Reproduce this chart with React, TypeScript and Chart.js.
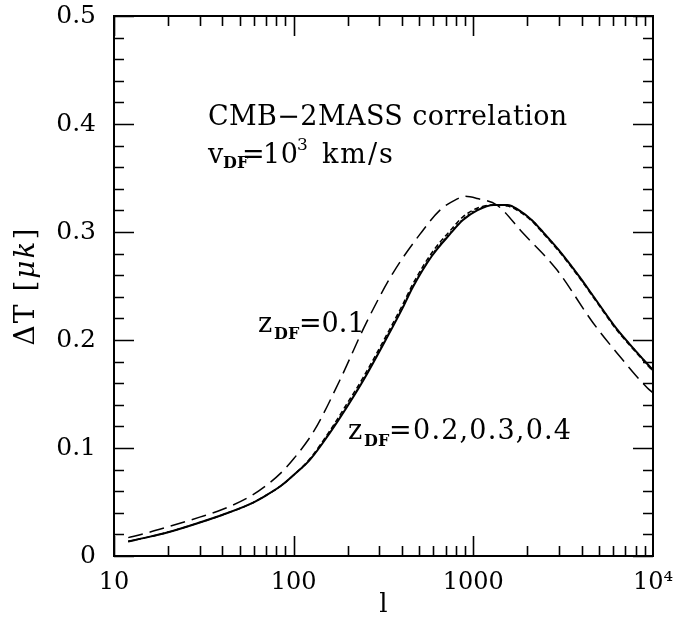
import React, { useEffect, useRef } from 'react';
import { Chart, registerables } from 'chart.js';

Chart.register(...registerables);

const FONT = "'DejaVu Serif', serif";

// Axis ticks
const X_TICKS = [10, 100, 1000, 10000];
const X_TICK_LABELS = ['10', '100', '1000', '10\u2074'];
const Y_TICKS = [0, 0.1, 0.2, 0.3, 0.4, 0.5];
const Y_TICK_LABELS = ['0', '0.1', '0.2', '0.3', '0.4', '0.5'];

// z_DF = 0.1 (long dashed)
const L_Z01 = [12, 15, 20, 30, 40, 57, 70, 85, 100, 130, 181, 252, 357, 505, 650, 800, 897, 1050, 1352, 1888, 2917, 4635, 6300, 9250, 10000];
const DT_Z01 = [0.017, 0.021, 0.027, 0.036, 0.043, 0.055, 0.065, 0.077, 0.090, 0.116, 0.163, 0.215, 0.262, 0.298, 0.320, 0.330, 0.333, 0.331, 0.325, 0.299, 0.265, 0.216, 0.188, 0.156, 0.151];

// z_DF = 0.2, 0.3, 0.4 (nearly coincident)
const L_ZHI = [12, 15, 20, 30, 40, 57, 70, 85, 100, 123, 159, 198, 243, 330, 405, 461, 589, 741, 875, 1050, 1300, 1550, 1800, 2150, 2350, 3000, 3920, 4635, 6300, 8000, 10000];
const DT_Z02 = [0.0135, 0.017, 0.022, 0.031, 0.038, 0.048, 0.056, 0.065, 0.075, 0.089, 0.114, 0.138, 0.162, 0.202, 0.230, 0.249, 0.278, 0.298, 0.311, 0.320, 0.325, 0.325, 0.320, 0.310, 0.303, 0.283, 0.258, 0.241, 0.210, 0.190, 0.172];
const DT_Z03 = [0.0135, 0.017, 0.022, 0.031, 0.038, 0.048, 0.056, 0.065, 0.075, 0.090, 0.116, 0.141, 0.165, 0.205, 0.233, 0.252, 0.281, 0.301, 0.314, 0.322, 0.325, 0.324, 0.319, 0.309, 0.302, 0.282, 0.257, 0.240, 0.209, 0.189, 0.171];
const DT_Z04 = [0.0135, 0.017, 0.022, 0.031, 0.038, 0.048, 0.056, 0.065, 0.075, 0.089, 0.115, 0.139, 0.163, 0.203, 0.231, 0.250, 0.279, 0.299, 0.312, 0.321, 0.325, 0.325, 0.320, 0.310, 0.303, 0.283, 0.258, 0.241, 0.210, 0.190, 0.172];

const pts = (xs: number[], ys: number[]) => xs.map((x, i) => ({ x, y: ys[i] }));

type Seg = { t: string; size: number; x?: number; dy?: number; bold?: boolean; italic?: boolean; ls?: number };

function segFont(s: Seg) {
  return `${s.italic ? 'italic ' : ''}${s.bold ? 'bold ' : ''}${s.size}px ${FONT}`;
}

function measureRich(ctx: any, segs: Seg[]) {
  let w = 0;
  for (const s of segs) {
    ctx.font = segFont(s);
    ctx.letterSpacing = `${s.ls || 0}px`;
    w += ctx.measureText(s.t).width;
  }
  ctx.letterSpacing = '0px';
  return w;
}

function drawRich(ctx: any, x: number, y: number, segs: Seg[]) {
  let cx = x;
  for (const s of segs) {
    if (s.x !== undefined) cx = s.x;
    ctx.font = segFont(s);
    ctx.letterSpacing = `${s.ls || 0}px`;
    ctx.fillText(s.t, cx, y + (s.dy || 0));
    cx += ctx.measureText(s.t).width;
  }
  ctx.letterSpacing = '0px';
}

const framePlugin = {
  id: 'frameTicks',
  afterDatasetsDraw(chart: any) {
    const { ctx, chartArea, scales } = chart;
    const { left, right, top, bottom } = chartArea;
    const xs = scales.x;
    const ys = scales.y;
    ctx.save();
    ctx.strokeStyle = '#000';
    ctx.lineWidth = 1.6;
    ctx.beginPath();
    for (const d of [10, 100, 1000]) {
      for (let k = 1; k <= 9; k++) {
        const v = d * k;
        const px = Math.round(xs.getPixelForValue(v)) + 0.5;
        const len = k === 1 ? 20 : 10;
        ctx.moveTo(px, bottom);
        ctx.lineTo(px, bottom - len);
        ctx.moveTo(px, top);
        ctx.lineTo(px, top + len);
      }
    }
    for (let i = 0; i <= 25; i++) {
      const v = i * 0.02;
      const py = Math.round(ys.getPixelForValue(v)) + 0.5;
      const len = i % 5 === 0 ? 20 : 10;
      ctx.moveTo(left, py);
      ctx.lineTo(left + len, py);
      ctx.moveTo(right, py);
      ctx.lineTo(right - len, py);
    }
    ctx.stroke();
    ctx.lineWidth = 2;
    ctx.strokeRect(left, top, right - left, bottom - top);

    ctx.fillStyle = '#000';
    ctx.textBaseline = 'alphabetic';
    ctx.textAlign = 'left';
    drawRich(ctx, 208, 125, [{ t: 'CMB\u22122MASS correlation', size: 27, ls: 0.4 }]);
    drawRich(ctx, 208, 163, [
      { t: 'v', size: 27 },
      { t: 'DF', size: 16, x: 223, dy: 5, bold: true },
      { t: '=', size: 27, x: 242 },
      { t: '10', size: 27, x: 263, ls: 0.5 },
      { t: '3', size: 17, x: 297, dy: -13 },
      { t: 'km/s', size: 27, x: 322, ls: 2 },
    ]);
    drawRich(ctx, 258, 332, [
      { t: 'z', size: 27 },
      { t: 'DF', size: 16, x: 274, dy: 7, bold: true },
      { t: '=0.1', size: 27, x: 299 },
    ]);
    drawRich(ctx, 348, 439, [
      { t: 'z', size: 27 },
      { t: 'DF', size: 16, x: 364, dy: 7, bold: true },
      { t: '=', size: 27, x: 389 },
      { t: '0.2,0.3,0.4', size: 27, x: 413, ls: 1.2 },
    ]);

    // y axis title, rotated
    const titleSegs: Seg[] = [
      { t: '\u0394T [', size: 28, ls: 2 },
      { t: '\u03bck', size: 28, ls: 2, italic: true },
      { t: ']', size: 28, ls: 2 },
    ];
    ctx.save();
    ctx.translate(27, (top + bottom) / 2);
    ctx.rotate(-Math.PI / 2);
    ctx.textBaseline = 'middle';
    const w = measureRich(ctx, titleSegs);
    drawRich(ctx, -w / 2, 0, titleSegs);
    ctx.restore();
    ctx.restore();
  },
};

export default function App() {
  const ref = useRef<HTMLCanvasElement | null>(null);
  useEffect(() => {
    if (!ref.current) return;
    const common = { pointRadius: 0, borderColor: '#000', fill: false, cubicInterpolationMode: 'monotone' as const };
    const chart = new Chart(ref.current, {
      type: 'line',
      data: {
        datasets: [
          { ...common, label: 'z=0.1', data: pts(L_Z01, DT_Z01), borderWidth: 1.5, borderDash: [15, 7] },
          { ...common, label: 'z=0.4', data: pts(L_ZHI, DT_Z04), borderWidth: 1.3, borderDash: [2, 3] },
          { ...common, label: 'z=0.3', data: pts(L_ZHI, DT_Z03), borderWidth: 1.5, borderDash: [5, 3] },
          { ...common, label: 'z=0.2', data: pts(L_ZHI, DT_Z02), borderWidth: 2 },
        ],
      },
      options: {
        animation: false,
        responsive: false,
        events: [],
        layout: { padding: { left: 0, right: 37, top: 16, bottom: 0 } },
        plugins: { legend: { display: false }, tooltip: { enabled: false } },
        scales: {
          x: {
            type: 'logarithmic',
            min: 10,
            max: 10000,
            grid: { display: false, drawTicks: false },
            border: { display: false },
            afterBuildTicks: (s: any) => {
              s.ticks = X_TICKS.map((v) => ({ value: v }));
            },
            afterFit: (s: any) => {
              s.height = 75;
              s.paddingLeft = 0;
              s.paddingRight = 0;
            },
            ticks: {
              autoSkip: false,
              maxRotation: 0,
              padding: 12,
              color: '#000',
              font: { family: FONT, size: 24 },
              callback: (v: any) => {
                const i = X_TICKS.indexOf(Number(v));
                return i >= 0 ? X_TICK_LABELS[i] : '';
              },
            },
            title: {
              display: true,
              text: 'l',
              color: '#000',
              font: { family: FONT, size: 26 },
              padding: { top: 0, bottom: 10 },
            },
          },
          y: {
            type: 'linear',
            min: 0,
            max: 0.5,
            grid: { display: false, drawTicks: false },
            border: { display: false },
            afterBuildTicks: (s: any) => {
              s.ticks = Y_TICKS.map((v) => ({ value: v }));
            },
            afterFit: (s: any) => {
              s.width = 114;
              s.paddingTop = 0;
              s.paddingBottom = 0;
            },
            ticks: {
              autoSkip: false,
              padding: 18,
              color: '#000',
              font: { family: FONT, size: 25 },
              callback: (v: any) => {
                const i = Y_TICKS.findIndex((t) => Math.abs(t - Number(v)) < 1e-9);
                return i >= 0 ? Y_TICK_LABELS[i] : '';
              },
            },
            title: { display: false },
          },
        },
      },
      plugins: [framePlugin],
    });
    return () => chart.destroy();
  }, []);
  return (
    <div style={{ position: 'absolute', left: 0, top: 0, width: 690, height: 631, background: '#fff' }}>
      <canvas ref={ref} width={690} height={631} style={{ display: 'block' }} />
    </div>
  );
}
